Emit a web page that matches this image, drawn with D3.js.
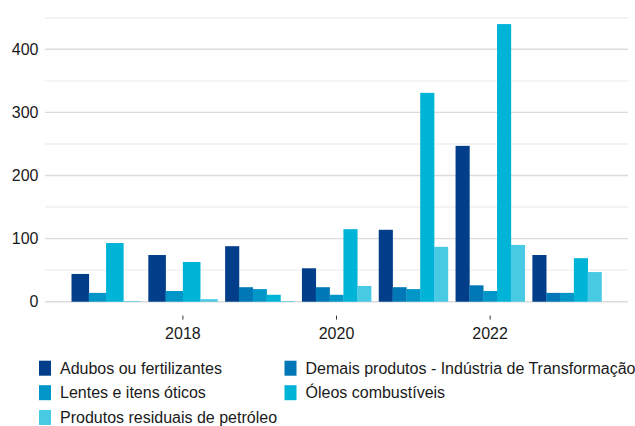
<!DOCTYPE html>
<html>
<head>
<meta charset="utf-8">
<script src="https://cdn.jsdelivr.net/npm/d3@7"></script>
<style>
  html, body { margin: 0; padding: 0; background: #fff; }
  svg { display: block; font-family: "Liberation Sans", Arial, sans-serif; }
</style>
</head>
<body>
<svg id="chart" width="635" height="426"></svg>
<script>
// Years on the x axis
const years = [2017, 2018, 2019, 2020, 2021, 2022, 2023];

// Series names (legend order)
const seriesNames = [
  "Adubos ou fertilizantes",
  "Demais produtos - Indústria de Transformação",
  "Lentes e itens óticos",
  "Óleos combustíveis",
  "Produtos residuais de petróleo"
];

// Values per series, one per year (null = no record that year)
const adubos   = [44, 74, 88, 53, 114, 247, 74];
const demais   = [null, null, 23, 23, 23, 26, 14];
const lentes   = [14, 17, 20, 11, 20, 17, 14];
const oleos    = [93, 63, 11, 115, 331, 440, 69];
const residuos = [1, 4, 1, 25, 87, 90, 47];

// Axis ticks
const xTicks = [2018, 2020, 2022];
const yMajor = [0, 100, 200, 300, 400];
const yMinor = [50, 150, 250, 350, 450];

const seriesValues = [adubos, demais, lentes, oleos, residuos];
const colors = ["#023e8a", "#0077b6", "#0096c7", "#00b4d8", "#48cae4"];

const svg = d3.select("#chart");
const plotLeft = 45, plotRight = 628, plotTop = 10.2, plotBottom = 315.6;

const x = d3.scaleLinear().domain([2016.205, 2023.795]).range([plotLeft, plotRight]);
const y = d3.scaleLinear().domain([-22, 462]).range([plotBottom, plotTop]);
const color = d3.scaleOrdinal().domain(seriesNames).range(colors);

// Grid
const grid = svg.append("g");
grid.selectAll("line.minor").data(yMinor).join("line")
  .attr("class", "minor")
  .attr("x1", plotLeft).attr("x2", plotRight)
  .attr("y1", d => y(d)).attr("y2", d => y(d))
  .attr("stroke", "#efefef").attr("stroke-width", 1.4);
grid.selectAll("line.major").data(yMajor).join("line")
  .attr("class", "major")
  .attr("x1", plotLeft).attr("x2", plotRight)
  .attr("y1", d => y(d)).attr("y2", d => y(d))
  .attr("stroke", "#dcdcdc").attr("stroke-width", 1.4);

// Bars: each year's slot (0.9 year wide) is shared by the series present that year
const barData = [];
years.forEach((yr, i) => {
  const present = seriesNames
    .map((name, s) => ({ name, value: seriesValues[s][i] }))
    .filter(d => d.value !== null);
  const band = d3.scaleBand()
    .domain(present.map(d => d.name))
    .range([x(yr - 0.45), x(yr + 0.45)]);
  present.forEach(d => barData.push({ year: yr, name: d.name, value: d.value, x0: band(d.name), w: band.bandwidth() }));
});

svg.append("g").selectAll("rect").data(barData).join("rect")
  .attr("x", d => d.x0)
  .attr("width", d => d.w + 0.3)
  .attr("y", d => y(d.value))
  .attr("height", d => y(0) - y(d.value))
  .attr("fill", d => color(d.name));

// Y axis labels
svg.append("g").selectAll("text").data(yMajor).join("text")
  .attr("x", 38.5).attr("y", d => y(d))
  .attr("dy", "0.36em")
  .attr("text-anchor", "end")
  .attr("font-size", 16)
  .attr("fill", "#1a1a1a")
  .text(d => d);

// X axis ticks and labels
const xa = svg.append("g");
xa.selectAll("line").data(xTicks).join("line")
  .attr("x1", d => x(d)).attr("x2", d => x(d))
  .attr("y1", plotBottom).attr("y2", plotBottom + 4)
  .attr("stroke", "#333").attr("stroke-width", 1);
xa.selectAll("text").data(xTicks).join("text")
  .attr("x", d => x(d)).attr("y", 339)
  .attr("text-anchor", "middle")
  .attr("font-size", 16)
  .attr("fill", "#1a1a1a")
  .text(d => d);

// Legend: two columns, filled row by row
const legend = svg.append("g");
const colX = [39, 284.5];
const rowY = [368.2, 392.7, 417.5];
const items = legend.selectAll("g").data(seriesNames).join("g")
  .attr("transform", (d, i) => `translate(${colX[i % 2]},${rowY[Math.floor(i / 2)]})`);
items.append("rect")
  .attr("x", 0).attr("y", -7.5)
  .attr("width", 12).attr("height", 15)
  .attr("fill", d => color(d));
items.append("text")
  .attr("x", 21).attr("y", 0)
  .attr("dy", "0.36em")
  .attr("font-size", 16)
  .attr("fill", "#1a1a1a")
  .text(d => d);
</script>
</body>
</html>
